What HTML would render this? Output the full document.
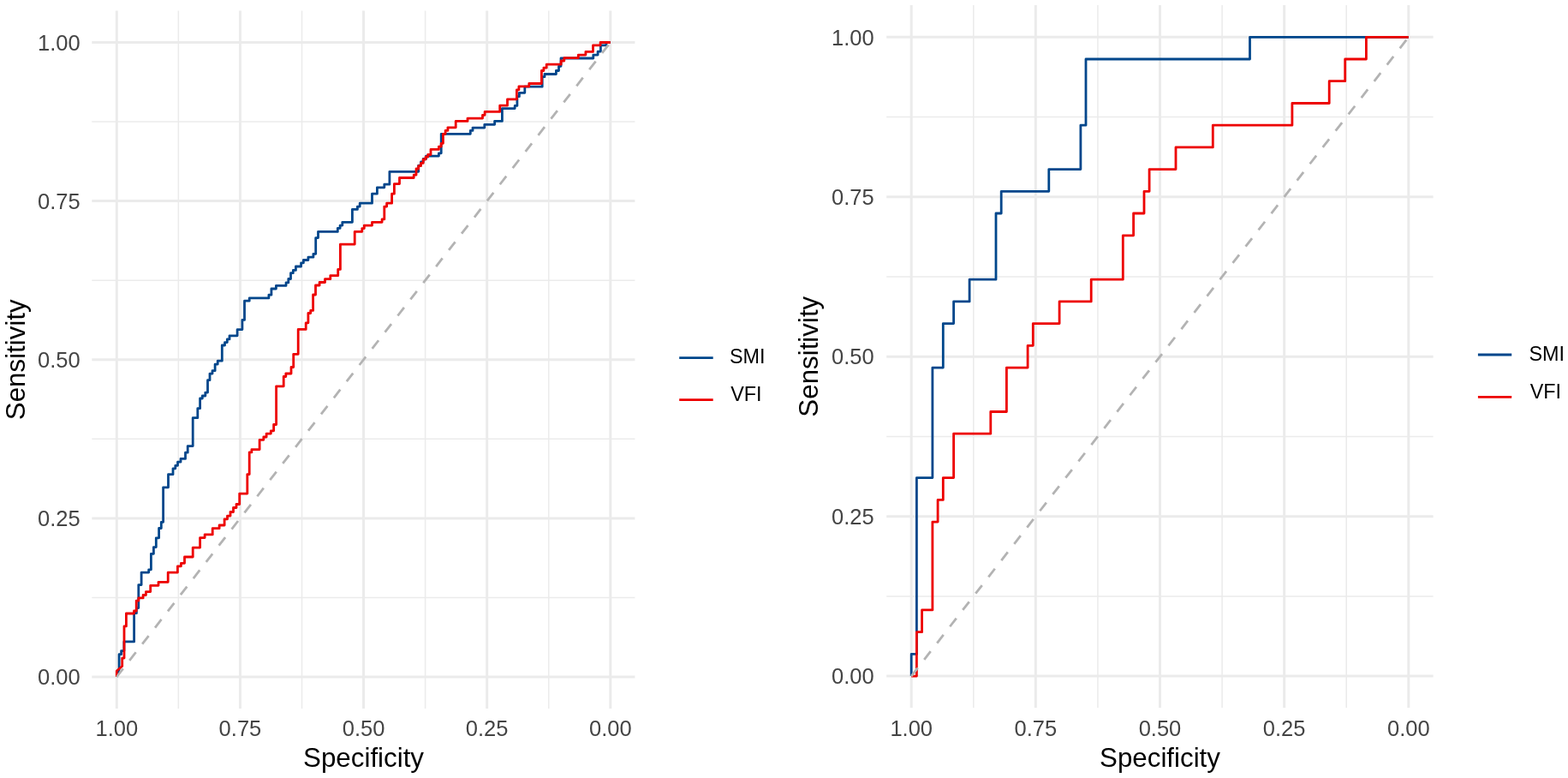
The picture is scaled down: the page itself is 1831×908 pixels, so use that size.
<!DOCTYPE html>
<html><head><meta charset="utf-8"><title>ROC curves</title>
<style>
html,body{margin:0;padding:0;background:#fff;}
svg{display:block;}
text{font-family:"Liberation Sans",Arial,Helvetica,sans-serif;}
</style></head><body>
<svg width="1831" height="908" viewBox="0 0 1831 908">
<rect width="1831" height="908" fill="#fff"/>

<g><line x1="640.74" y1="12.5" x2="640.74" y2="827.0" stroke="#EBEBEB" stroke-width="1.5"/>
<line x1="107.3" y1="697.44" x2="741.4" y2="697.44" stroke="#EBEBEB" stroke-width="1.5"/>
<line x1="496.61" y1="12.5" x2="496.61" y2="827.0" stroke="#EBEBEB" stroke-width="1.5"/>
<line x1="107.3" y1="512.31" x2="741.4" y2="512.31" stroke="#EBEBEB" stroke-width="1.5"/>
<line x1="352.49" y1="12.5" x2="352.49" y2="827.0" stroke="#EBEBEB" stroke-width="1.5"/>
<line x1="107.3" y1="327.19" x2="741.4" y2="327.19" stroke="#EBEBEB" stroke-width="1.5"/>
<line x1="208.36" y1="12.5" x2="208.36" y2="827.0" stroke="#EBEBEB" stroke-width="1.5"/>
<line x1="107.3" y1="142.06" x2="741.4" y2="142.06" stroke="#EBEBEB" stroke-width="1.5"/>
<line x1="712.80" y1="12.5" x2="712.80" y2="827.0" stroke="#EBEBEB" stroke-width="3"/>
<line x1="107.3" y1="790.00" x2="741.4" y2="790.00" stroke="#EBEBEB" stroke-width="3"/>
<line x1="568.67" y1="12.5" x2="568.67" y2="827.0" stroke="#EBEBEB" stroke-width="3"/>
<line x1="107.3" y1="604.88" x2="741.4" y2="604.88" stroke="#EBEBEB" stroke-width="3"/>
<line x1="424.55" y1="12.5" x2="424.55" y2="827.0" stroke="#EBEBEB" stroke-width="3"/>
<line x1="107.3" y1="419.75" x2="741.4" y2="419.75" stroke="#EBEBEB" stroke-width="3"/>
<line x1="280.43" y1="12.5" x2="280.43" y2="827.0" stroke="#EBEBEB" stroke-width="3"/>
<line x1="107.3" y1="234.62" x2="741.4" y2="234.62" stroke="#EBEBEB" stroke-width="3"/>
<line x1="136.30" y1="12.5" x2="136.30" y2="827.0" stroke="#EBEBEB" stroke-width="3"/>
<line x1="107.3" y1="49.50" x2="741.4" y2="49.50" stroke="#EBEBEB" stroke-width="3"/></g>
<path d="M136.3,790.0 L139.1,781.0 L139.1,763.7 L141.6,763.7 L141.6,759.6 L144.9,759.6 L144.9,748.9 L156.6,748.9 L156.6,715.7 L159.4,715.7 L159.4,709.6 L161.8,709.6 L161.8,682.6 L165.1,682.6 L165.1,668.1 L173.7,668.1 L173.7,664.8 L176.4,664.8 L176.4,646.3 L179.4,646.3 L179.4,638.6 L182.3,638.6 L182.3,627.8 L185.6,627.8 L185.6,616.5 L188.3,616.5 L188.3,609.3 L190.6,609.3 L190.6,568.8 L196.5,568.8 L196.5,553.7 L202.0,553.7 L202.0,546.8 L204.8,546.8 L204.8,543.3 L207.5,543.3 L207.5,539.2 L211.0,539.2 L211.0,535.4 L216.5,535.4 L216.5,528.2 L219.2,528.2 L219.2,520.6 L225.2,520.6 L225.2,487.7 L230.8,487.7 L230.8,476.7 L233.6,476.7 L233.6,465.0 L236.3,465.0 L236.3,462.0 L239.8,462.0 L239.8,458.1 L242.5,458.1 L242.5,443.7 L245.0,443.7 L245.0,436.1 L248.0,436.1 L248.0,432.7 L251.1,432.7 L251.1,425.1 L254.2,425.1 L254.2,421.2 L259.3,421.2 L259.3,403.0 L262.5,403.0 L262.5,399.6 L265.3,399.6 L265.3,395.9 L268.0,395.9 L268.0,391.8 L277.1,391.8 L277.1,384.6 L282.9,384.6 L282.9,373.4 L285.5,373.4 L285.5,351.2 L291.2,351.2 L291.2,347.9 L313.9,347.9 L313.9,344.2 L316.9,344.2 L316.9,337.0 L322.4,337.0 L322.4,333.4 L334.0,333.4 L334.0,329.9 L336.8,329.9 L336.8,325.5 L339.5,325.5 L339.5,318.7 L342.3,318.7 L342.3,315.4 L345.4,315.4 L345.4,311.0 L351.6,311.0 L351.6,306.8 L354.4,306.8 L354.4,303.5 L359.9,303.5 L359.9,300.2 L365.9,300.2 L365.9,296.3 L368.7,296.3 L368.7,277.6 L371.5,277.6 L371.5,270.4 L394.3,270.4 L394.3,266.4 L397.1,266.4 L397.1,263.1 L399.8,263.1 L399.8,259.3 L411.4,259.3 L411.4,244.4 L417.4,244.4 L417.4,241.1 L420.2,241.1 L420.2,237.2 L434.5,237.2 L434.5,226.2 L440.4,226.2 L440.4,218.8 L448.8,218.8 L448.8,215.2 L454.9,215.2 L454.9,200.3 L488.7,200.3 L488.7,193.1 L491.5,193.1 L491.5,189.0 L494.2,189.0 L494.2,185.5 L497.5,185.5 L497.5,182.1 L512.4,182.1 L512.4,178.8 L515.2,178.8 L515.2,156.3 L549.3,156.3 L549.3,152.4 L552.0,152.4 L552.0,149.1 L565.8,149.1 L565.8,145.3 L577.6,145.3 L577.6,141.4 L586.4,141.4 L586.4,126.6 L601.2,126.6 L601.2,123.4 L603.9,123.4 L603.9,112.7 L606.4,112.7 L606.4,108.3 L612.8,108.3 L612.8,101.2 L633.2,101.2 L633.2,89.7 L636.0,89.7 L636.0,86.5 L649.4,86.5 L649.4,82.5 L652.5,82.5 L652.5,77.3 L655.0,77.3 L655.0,68.0 L692.8,68.0 L692.8,64.1 L698.1,64.1 L698.1,60.1 L701.4,60.1 L701.4,52.8 L708.0,52.8 L708.0,49.5 L712.8,49.5" fill="none" stroke="#00468B" stroke-width="2.8" stroke-linejoin="round" stroke-linecap="butt"/>
<path d="M136.3,790.0 L136.3,783.0 L142.7,777.5 L142.7,768.1 L145.0,768.1 L145.0,730.9 L147.4,730.9 L147.4,716.0 L156.5,716.0 L156.5,713.0 L159.2,713.0 L159.2,701.2 L161.8,701.2 L161.8,697.9 L167.1,697.9 L167.1,694.5 L170.4,694.5 L170.4,690.6 L175.7,690.6 L175.7,683.3 L185.0,683.3 L185.0,679.3 L196.2,679.3 L196.2,668.1 L207.4,668.1 L207.4,660.8 L211.4,660.8 L211.4,657.3 L215.5,657.3 L215.5,650.0 L225.2,650.0 L225.2,639.1 L233.6,639.1 L233.6,627.6 L239.1,627.6 L239.1,623.9 L248.2,623.9 L248.2,616.7 L256.1,616.7 L256.1,613.0 L262.1,613.0 L262.1,605.8 L265.5,605.8 L265.5,602.1 L269.0,602.1 L269.0,597.5 L272.5,597.5 L272.5,592.5 L276.0,592.5 L276.0,588.5 L279.7,588.5 L279.7,576.1 L288.8,576.1 L288.8,553.6 L291.2,553.6 L291.2,527.9 L293.9,527.9 L293.9,524.6 L303.1,524.6 L303.1,513.3 L307.8,513.3 L307.8,510.0 L311.1,510.0 L311.1,506.1 L316.3,506.1 L316.3,502.8 L319.6,502.8 L319.6,495.5 L322.6,495.5 L322.6,450.8 L331.2,450.8 L331.2,439.5 L333.8,439.5 L333.8,436.0 L340.0,436.0 L340.0,428.5 L342.7,428.5 L342.7,413.3 L348.2,413.3 L348.2,384.4 L357.2,384.4 L357.2,376.8 L359.9,376.8 L359.9,365.5 L362.7,365.5 L362.7,362.4 L365.6,362.4 L365.6,344.0 L368.5,344.0 L368.5,333.0 L373.1,333.0 L373.1,329.5 L379.5,329.5 L379.5,325.7 L385.8,325.7 L385.8,321.7 L394.7,321.7 L394.7,314.4 L397.4,314.4 L397.4,285.1 L414.2,285.1 L414.2,270.3 L422.8,270.3 L422.8,266.6 L425.3,266.6 L425.3,263.1 L434.5,263.1 L434.5,259.3 L446.1,259.3 L446.1,255.9 L448.8,255.9 L448.8,241.1 L451.6,241.1 L451.6,237.2 L457.6,237.2 L457.6,226.2 L460.4,226.2 L460.4,214.6 L466.5,214.6 L466.5,207.5 L483.2,207.5 L483.2,204.2 L486.0,204.2 L486.0,197.0 L488.7,197.0 L488.7,193.7 L491.5,193.7 L491.5,190.4 L494.2,190.4 L494.2,186.0 L497.0,186.0 L497.0,183.2 L499.7,183.2 L499.7,180.5 L503.0,180.5 L503.0,174.4 L512.4,174.4 L512.4,171.1 L515.2,171.1 L515.2,167.3 L517.4,167.3 L517.4,156.3 L520.1,156.3 L520.1,152.4 L522.9,152.4 L522.9,148.8 L532.2,148.8 L532.2,141.4 L546.0,141.4 L546.0,138.1 L563.5,138.1 L563.5,134.3 L566.1,134.3 L566.1,130.4 L583.7,130.4 L583.7,123.2 L592.5,123.2 L592.5,115.8 L603.4,115.8 L603.4,104.8 L605.9,104.8 L605.9,100.9 L617.8,100.9 L617.8,97.5 L632.4,97.5 L632.4,82.5 L634.9,82.5 L634.9,79.2 L638.2,79.2 L638.2,75.2 L655.2,75.2 L655.2,71.0 L658.8,71.0 L658.8,67.7 L675.3,67.7 L675.3,64.1 L683.9,64.1 L683.9,60.4 L692.5,60.4 L692.5,52.8 L701.1,52.8 L701.1,49.5 L712.8,49.5" fill="none" stroke="#ED0000" stroke-width="2.8" stroke-linejoin="round" stroke-linecap="butt"/>
<line x1="136.30" y1="790.00" x2="712.80" y2="49.50" stroke="#B3B3B3" stroke-width="2.8" stroke-dasharray="12.14 12.14"/>
<text x="136.30" y="859.0" font-size="25.5" fill="#444444" text-anchor="middle">1.00</text>
<text x="280.43" y="859.0" font-size="25.5" fill="#444444" text-anchor="middle">0.75</text>
<text x="424.55" y="859.0" font-size="25.5" fill="#444444" text-anchor="middle">0.50</text>
<text x="568.67" y="859.0" font-size="25.5" fill="#444444" text-anchor="middle">0.25</text>
<text x="712.80" y="859.0" font-size="25.5" fill="#444444" text-anchor="middle">0.00</text>
<text x="93.70" y="58.70" font-size="25.5" fill="#444444" text-anchor="end">1.00</text>
<text x="93.70" y="243.82" font-size="25.5" fill="#444444" text-anchor="end">0.75</text>
<text x="93.70" y="428.95" font-size="25.5" fill="#444444" text-anchor="end">0.50</text>
<text x="93.70" y="614.08" font-size="25.5" fill="#444444" text-anchor="end">0.25</text>
<text x="93.70" y="799.20" font-size="25.5" fill="#444444" text-anchor="end">0.00</text>
<text x="424.55" y="894.6" font-size="31.3" fill="#000" text-anchor="middle">Specificity</text>
<text transform="translate(29.0,419.75) rotate(-90)" font-size="31.3" fill="#000" text-anchor="middle">Sensitivity</text>
<line x1="793.2" y1="417.6" x2="832.7" y2="417.6" stroke="#00468B" stroke-width="2.8"/>
<text x="852.0" y="424.30" font-size="23.4" fill="#000">SMI</text>
<line x1="793.2" y1="466.7" x2="832.7" y2="466.7" stroke="#ED0000" stroke-width="2.8"/>
<text x="853.2" y="467.60" font-size="23.4" fill="#000">VFI</text>
<g><line x1="1572.22" y1="6.0" x2="1572.22" y2="826.0" stroke="#EBEBEB" stroke-width="1.5"/>
<line x1="1035.2" y1="695.88" x2="1673.6" y2="695.88" stroke="#EBEBEB" stroke-width="1.5"/>
<line x1="1427.08" y1="6.0" x2="1427.08" y2="826.0" stroke="#EBEBEB" stroke-width="1.5"/>
<line x1="1035.2" y1="509.43" x2="1673.6" y2="509.43" stroke="#EBEBEB" stroke-width="1.5"/>
<line x1="1281.92" y1="6.0" x2="1281.92" y2="826.0" stroke="#EBEBEB" stroke-width="1.5"/>
<line x1="1035.2" y1="322.97" x2="1673.6" y2="322.97" stroke="#EBEBEB" stroke-width="1.5"/>
<line x1="1136.78" y1="6.0" x2="1136.78" y2="826.0" stroke="#EBEBEB" stroke-width="1.5"/>
<line x1="1035.2" y1="136.52" x2="1673.6" y2="136.52" stroke="#EBEBEB" stroke-width="1.5"/>
<line x1="1644.80" y1="6.0" x2="1644.80" y2="826.0" stroke="#EBEBEB" stroke-width="3"/>
<line x1="1035.2" y1="789.10" x2="1673.6" y2="789.10" stroke="#EBEBEB" stroke-width="3"/>
<line x1="1499.65" y1="6.0" x2="1499.65" y2="826.0" stroke="#EBEBEB" stroke-width="3"/>
<line x1="1035.2" y1="602.65" x2="1673.6" y2="602.65" stroke="#EBEBEB" stroke-width="3"/>
<line x1="1354.50" y1="6.0" x2="1354.50" y2="826.0" stroke="#EBEBEB" stroke-width="3"/>
<line x1="1035.2" y1="416.20" x2="1673.6" y2="416.20" stroke="#EBEBEB" stroke-width="3"/>
<line x1="1209.35" y1="6.0" x2="1209.35" y2="826.0" stroke="#EBEBEB" stroke-width="3"/>
<line x1="1035.2" y1="229.75" x2="1673.6" y2="229.75" stroke="#EBEBEB" stroke-width="3"/>
<line x1="1064.20" y1="6.0" x2="1064.20" y2="826.0" stroke="#EBEBEB" stroke-width="3"/>
<line x1="1035.2" y1="43.30" x2="1673.6" y2="43.30" stroke="#EBEBEB" stroke-width="3"/></g>
<path d="M1064.2,789.1 L1064.2,763.4 L1070.4,763.4 L1070.4,557.6 L1088.9,557.6 L1088.9,429.1 L1101.3,429.1 L1101.3,377.6 L1113.6,377.6 L1113.6,351.9 L1132.1,351.9 L1132.1,326.2 L1163.0,326.2 L1163.0,249.0 L1169.2,249.0 L1169.2,223.3 L1224.8,223.3 L1224.8,197.6 L1261.9,197.6 L1261.9,146.2 L1268.0,146.2 L1268.0,69.0 L1459.5,69.0 L1459.5,43.3 L1644.8,43.3" fill="none" stroke="#00468B" stroke-width="2.8" stroke-linejoin="round" stroke-linecap="butt"/>
<path d="M1064.2,789.1 L1070.4,789.1 L1070.4,737.7 L1076.6,737.7 L1076.6,711.9 L1088.9,711.9 L1088.9,609.1 L1095.1,609.1 L1095.1,583.4 L1101.3,583.4 L1101.3,557.6 L1113.6,557.6 L1113.6,506.2 L1156.8,506.2 L1156.8,480.5 L1175.4,480.5 L1175.4,429.1 L1200.1,429.1 L1200.1,403.3 L1206.3,403.3 L1206.3,377.6 L1237.1,377.6 L1237.1,351.9 L1274.2,351.9 L1274.2,326.2 L1311.3,326.2 L1311.3,274.8 L1323.6,274.8 L1323.6,249.0 L1336.0,249.0 L1336.0,223.3 L1342.1,223.3 L1342.1,197.6 L1373.0,197.6 L1373.0,171.9 L1416.3,171.9 L1416.3,146.2 L1508.9,146.2 L1508.9,120.5 L1552.2,120.5 L1552.2,94.7 L1570.7,94.7 L1570.7,69.0 L1595.4,69.0 L1595.4,43.3 L1644.8,43.3" fill="none" stroke="#ED0000" stroke-width="2.8" stroke-linejoin="round" stroke-linecap="butt"/>
<line x1="1064.20" y1="789.10" x2="1644.80" y2="43.30" stroke="#B3B3B3" stroke-width="2.8" stroke-dasharray="12.22 12.22"/>
<text x="1064.20" y="859.0" font-size="25.5" fill="#444444" text-anchor="middle">1.00</text>
<text x="1209.35" y="859.0" font-size="25.5" fill="#444444" text-anchor="middle">0.75</text>
<text x="1354.50" y="859.0" font-size="25.5" fill="#444444" text-anchor="middle">0.50</text>
<text x="1499.65" y="859.0" font-size="25.5" fill="#444444" text-anchor="middle">0.25</text>
<text x="1644.80" y="859.0" font-size="25.5" fill="#444444" text-anchor="middle">0.00</text>
<text x="1020.70" y="52.50" font-size="25.5" fill="#444444" text-anchor="end">1.00</text>
<text x="1020.70" y="238.95" font-size="25.5" fill="#444444" text-anchor="end">0.75</text>
<text x="1020.70" y="425.40" font-size="25.5" fill="#444444" text-anchor="end">0.50</text>
<text x="1020.70" y="611.85" font-size="25.5" fill="#444444" text-anchor="end">0.25</text>
<text x="1020.70" y="798.30" font-size="25.5" fill="#444444" text-anchor="end">0.00</text>
<text x="1354.50" y="894.6" font-size="31.3" fill="#000" text-anchor="middle">Specificity</text>
<text transform="translate(955.0,416.20) rotate(-90)" font-size="31.3" fill="#000" text-anchor="middle">Sensitivity</text>
<line x1="1725.9" y1="414.0" x2="1765.2" y2="414.0" stroke="#00468B" stroke-width="2.8"/>
<text x="1785.5" y="421.00" font-size="23.4" fill="#000">SMI</text>
<line x1="1725.9" y1="463.3" x2="1765.2" y2="463.3" stroke="#ED0000" stroke-width="2.8"/>
<text x="1786.7" y="464.60" font-size="23.4" fill="#000">VFI</text>
</svg></body></html>
